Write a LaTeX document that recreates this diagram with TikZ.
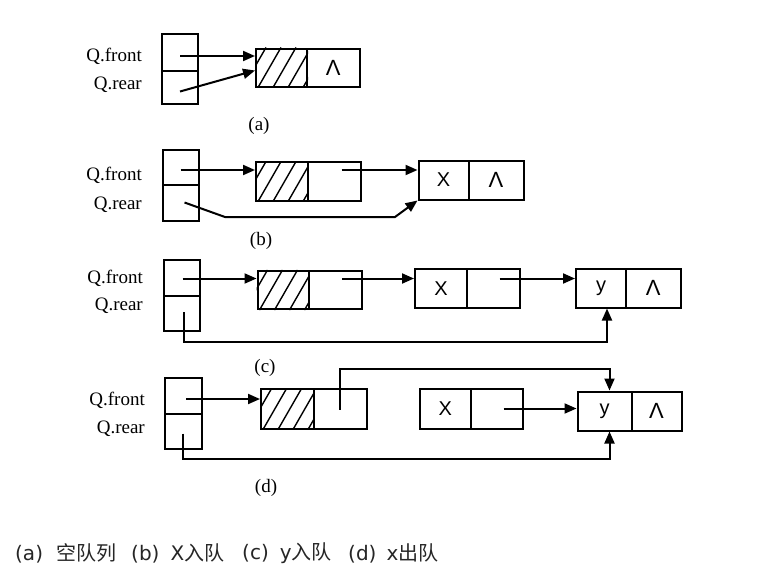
\documentclass[tikz,border=0pt]{standalone}
\usepackage{fontspec}
\setmainfont{Liberation Serif}
\newfontfamily\lsans{Liberation Sans}
\newfontfamily\dvs{DejaVu Sans}
\newfontfamily\cjkfont{Noto Sans CJK SC}
\usetikzlibrary{arrows.meta,calc}
\newcommand\cellbox[6]{\node[cell,minimum width={#4-#2},minimum height={#5-#3}] (#1) at ({(#2+#4)/2},{(#3+#5)/2}) {#6};}
\newcommand\hatchcell[1]{\begin{scope}\clip (#1.south west) rectangle (#1.north east);
  \foreach \i in {-2,...,3}{\draw[hatchline] ($(#1.south west)+(3+\i*15,0)$) -- ++(23,-40);}\end{scope}}
\begin{document}
\begin{tikzpicture}[x=1pt,y=-1pt,
  cell/.style={draw,line width=2pt,inner sep=0pt,font=\lsans\fontsize{20}{20}\selectfont},
  conn/.style={line width=2pt},
  arr/.style={conn,-{Triangle[length=12pt,width=10pt]}},
  hatchline/.style={line width=1.4pt},
  lbl/.style={anchor=east,font=\fontsize{19}{19}\selectfont,inner sep=0pt},
  sub/.style={font=\fontsize{19}{19}\selectfont,inner sep=0pt},
  captxt/.style={anchor=west,font=\cjkfont\fontsize{20}{20}\selectfont,inner sep=0pt,text=black!85}]
\useasboundingbox[fill=white] (0,0) rectangle (765,581);

% ---------- (a)
\cellbox{qa1}{162}{33.5}{198}{71}{}
\cellbox{qa2}{162}{71}{198}{104}{}
\cellbox{ha}{256}{48.5}{307}{86.5}{}
\cellbox{na}{307}{48.5}{359.5}{86.5}{\lsans\fontsize{22}{22}\selectfont Λ}
\hatchcell{ha}
\node[lbl] (lfa) at (142,56) {Q.front};
\node[lbl] (lra) at (142,85) {Q.rear};
\coordinate (afs) at (180,56);
\coordinate (ars) at (180,91.5);
\draw[arr] (afs) -- (afs -| ha.west);
\draw[arr] (ars) -- ([yshift=-3pt]ha.west);
\node[sub] (ta) at (259,126) {(a)};

% ---------- (b)
\cellbox{qb1}{162.5}{149.5}{198.5}{185}{}
\cellbox{qb2}{162.5}{185}{198.5}{220.5}{}
\cellbox{hb}{256}{161.5}{307.5}{200.5}{}
\cellbox{nb1}{307.5}{161.5}{361}{200.5}{}
\cellbox{xb}{418.5}{160.5}{468.5}{199.5}{X}
\cellbox{nb2}{468.5}{160.5}{523.5}{199.5}{\lsans\fontsize{22}{22}\selectfont Λ}
\hatchcell{hb}
\node[lbl] (lfb) at (142,175.5) {Q.front};
\node[lbl] (lrb) at (142,204.5) {Q.rear};
\coordinate (bfs) at (180.5,170);
\coordinate (bns) at (341.5,170);
\coordinate (brs) at (184.5,202.5);
\draw[arr] (bfs) -- (bfs -| hb.west);
\draw[arr] (bns) -- (bns -| xb.west);
\draw[arr] (brs) -- ++(40.5,14.5) -- ++(170,0) -- (xb.south west);
\node[sub] (tb) at (261,241) {(b)};

% ---------- (c)
\cellbox{qc1}{163.5}{260}{200}{295.5}{}
\cellbox{qc2}{163.5}{295.5}{200}{331}{}
\cellbox{hc}{257.5}{270.5}{308.5}{309}{}
\cellbox{nc1}{308.5}{270.5}{362}{309}{}
\cellbox{xc}{415}{269}{467}{307.5}{X}
\cellbox{nc2}{467}{269}{519.5}{307.5}{}
\cellbox{yc}{576}{269}{626}{307.5}{y}
\cellbox{nc3}{626}{269}{680.5}{307.5}{\lsans\fontsize{22}{22}\selectfont Λ}
\hatchcell{hc}
\node[lbl] (lfc) at (143,278) {Q.front};
\node[lbl] (lrc) at (143,306) {Q.rear};
\coordinate (cfs) at (182.5,278.5);
\coordinate (cns1) at (342,278.5);
\coordinate (cns2) at (499.5,278.5);
\coordinate (crs) at (183.5,312);
\draw[arr] (cfs) -- (cfs -| hc.west);
\draw[arr] (cns1) -- (cns1 -| xc.west);
\draw[arr] (cns2) -- (cns2 -| yc.west);
\draw[arr] (crs) -- ++(0,30) -| ([xshift=6pt]yc.south);
\node[sub] (tc) at (265,368) {(c)};

% ---------- (d)
\cellbox{qd1}{165}{377.5}{201.5}{413.5}{}
\cellbox{qd2}{165}{413.5}{201.5}{448.5}{}
\cellbox{hd}{261}{389}{313.5}{428.5}{}
\cellbox{nd1}{313.5}{389}{366.5}{428.5}{}
\cellbox{xd}{419.5}{389}{471}{428.5}{X}
\cellbox{nd2}{471}{389}{522.5}{428.5}{}
\cellbox{yd}{577.5}{391.5}{631.5}{430.5}{y}
\cellbox{nd3}{631.5}{391.5}{681.5}{430.5}{\lsans\fontsize{22}{22}\selectfont Λ}
\hatchcell{hd}
\node[lbl] (lfd) at (145,400) {Q.front};
\node[lbl] (lrd) at (145,429) {Q.rear};
\coordinate (dfs) at (186,399);
\coordinate (dns1) at (339.5,409.5);
\coordinate (dns2) at (503.5,408.5);
\coordinate (drs) at (182.5,433.5);
\draw[arr] (dfs) -- (dfs -| hd.west);
\draw[arr] (dns1) -- ++(0,-41) -| ([xshift=5pt]yd.north);
\draw[arr] (dns2) -- (dns2 -| yd.west);
\draw[arr] (drs) -- ++(0,25) -| ([xshift=5pt]yd.south);
\node[sub] (td) at (266,488) {(d)};

% ---------- caption
\node[captxt] (c1) at (15,553) {{\dvs (a)}\hspace{13pt}空队列};
\node[captxt] (c2) at (131,553) {{\dvs (b)}\hspace{11pt}{\dvs X}入队};
\node[captxt] (c3) at (242,553) {{\dvs (c)}\hspace{11pt}{\dvs y}入队};
\node[captxt] (c4) at (348,553) {{\dvs (d)}\hspace{10pt}{\dvs x}出队};
\end{tikzpicture}
\end{document}
